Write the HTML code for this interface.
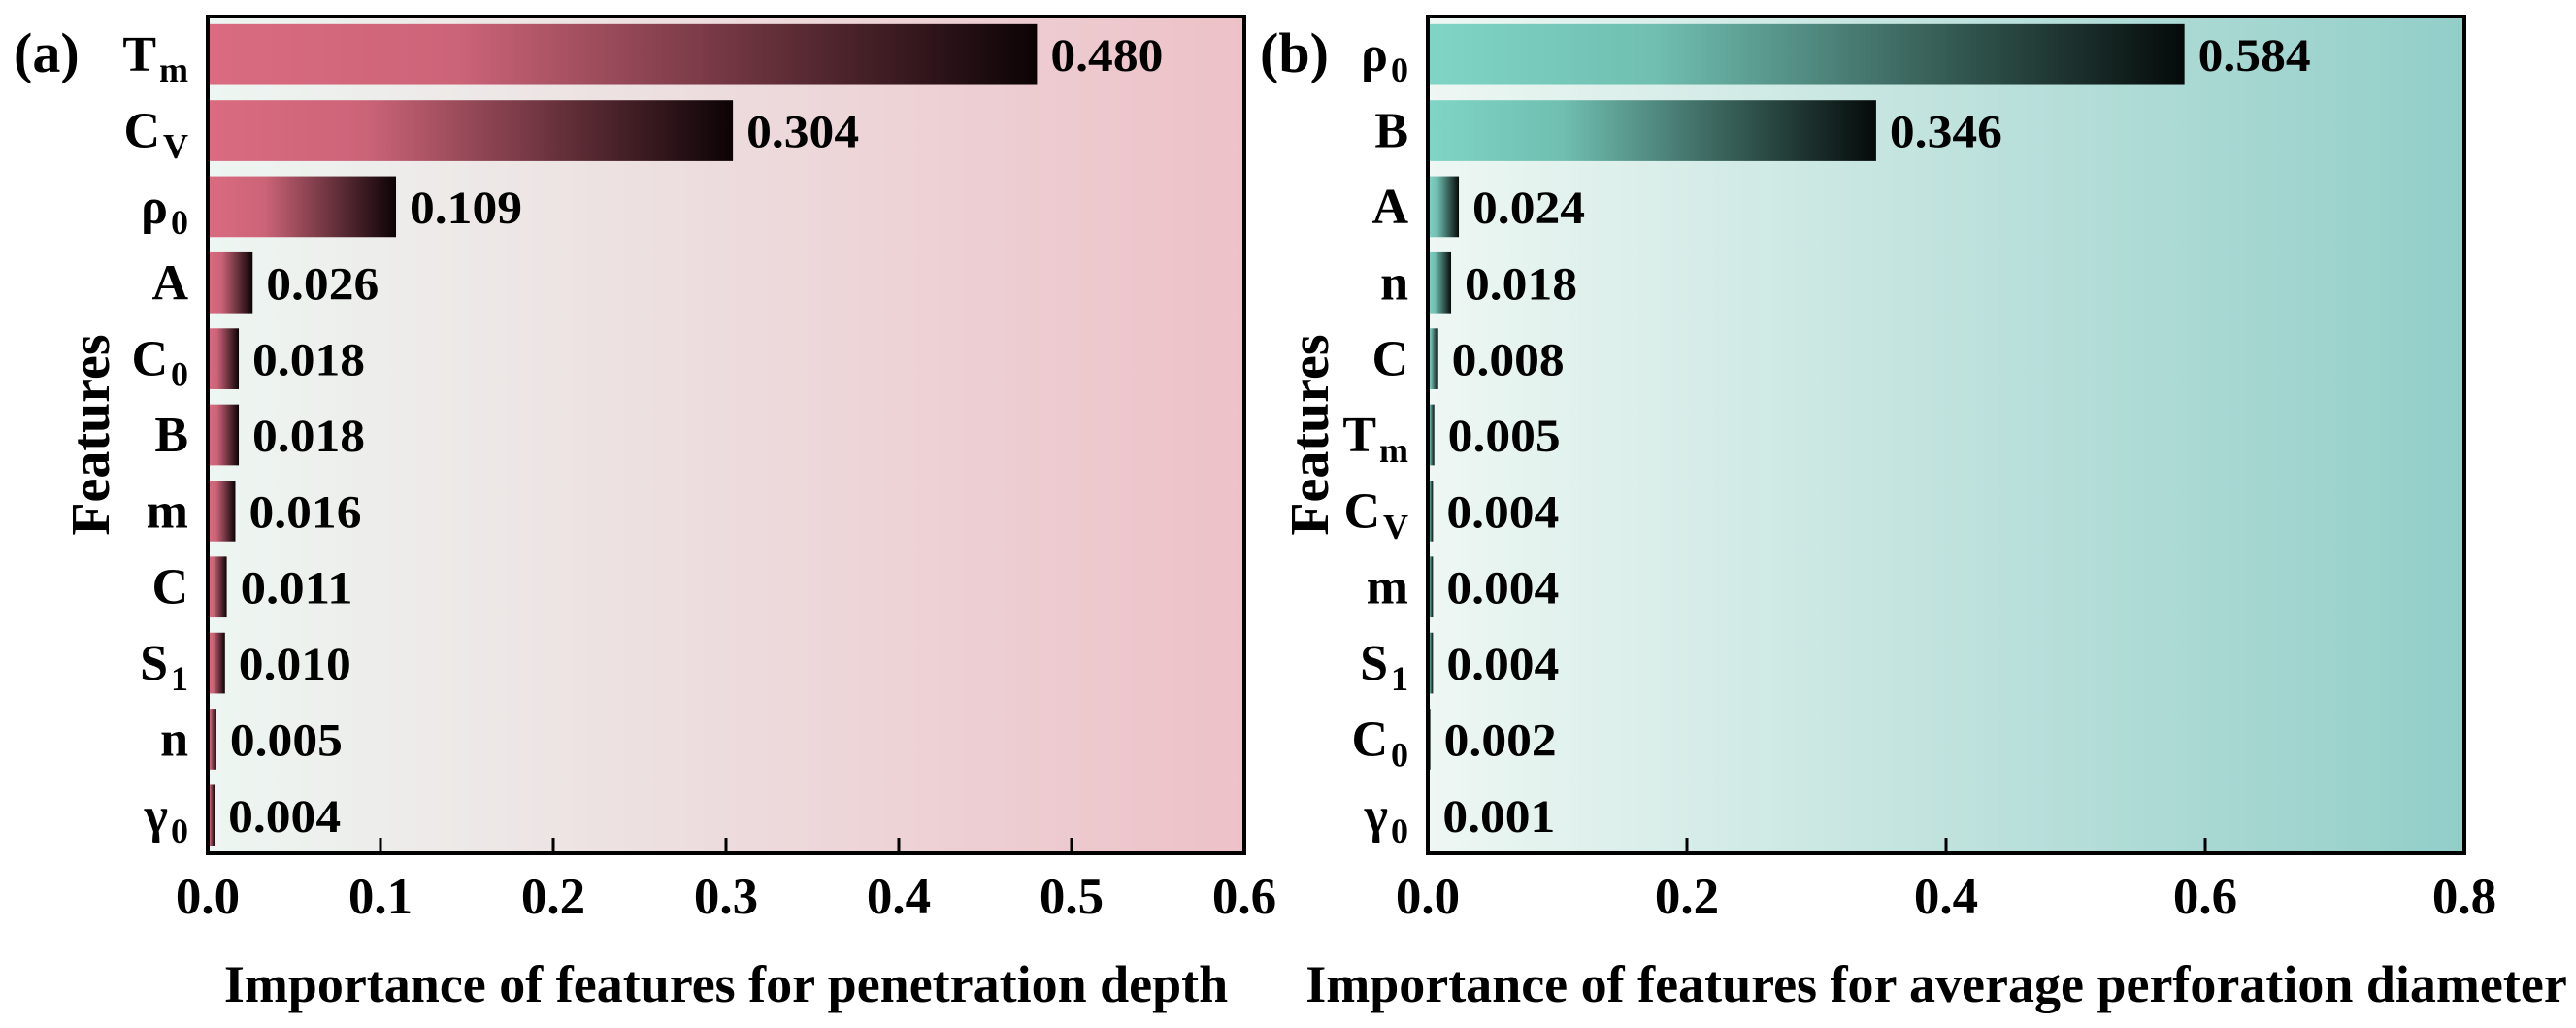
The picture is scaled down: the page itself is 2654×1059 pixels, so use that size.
<!DOCTYPE html>
<html><head><meta charset="utf-8">
<style>
html,body{margin:0;padding:0;background:#fff;}
svg{display:block;font-family:"Liberation Serif",serif;font-weight:bold;}
</style></head>
<body>
<svg id="chart" width="2654" height="1059" viewBox="0 0 2654 1059" xmlns="http://www.w3.org/2000/svg">
<defs>
<linearGradient id="bgA" x1="0" x2="1" y1="0" y2="0"><stop offset="0" stop-color="#edf6f2"/><stop offset="1" stop-color="#edc1c8"/></linearGradient>
<linearGradient id="bgB" x1="0" x2="1" y1="0" y2="0"><stop offset="0" stop-color="#eef7f3"/><stop offset="1" stop-color="#92cec8"/></linearGradient>
<linearGradient id="barA" x1="0" x2="1" y1="0" y2="0"><stop offset="0" stop-color="#da6b80"/><stop offset="0.3" stop-color="#cc6478"/><stop offset="1" stop-color="#0c0305"/></linearGradient>
<linearGradient id="barB" x1="0" x2="1" y1="0" y2="0"><stop offset="0" stop-color="#7fd5c6"/><stop offset="0.3" stop-color="#70bfb1"/><stop offset="1" stop-color="#050a09"/></linearGradient>
</defs>
<g id="pa"></g>
<g id="pb"></g>
</svg>
<script>
const featuresA = [["T","m"],["C","V"],["ρ","0"],["A",""],["C","0"],["B",""],["m",""],["C",""],["S","1"],["n",""],["γ","0"]];
const valuesA = [0.480,0.304,0.109,0.026,0.018,0.018,0.016,0.011,0.010,0.005,0.004];
const ticksA = [0.0,0.1,0.2,0.3,0.4,0.5,0.6];
const featuresB = [["ρ","0"],["B",""],["A",""],["n",""],["C",""],["T","m"],["C","V"],["m",""],["S","1"],["C","0"],["γ","0"]];
const valuesB = [0.584,0.346,0.024,0.018,0.008,0.005,0.004,0.004,0.004,0.002,0.001];
const ticksB = [0.0,0.2,0.4,0.6,0.8];

const NS="http://www.w3.org/2000/svg";
function mk(tag, attrs, parent){const e=document.createElementNS(NS,tag);for(const k in attrs)e.setAttribute(k,attrs[k]);parent.appendChild(e);return e;}

function panel(g, o){
  const L=o.left, R=o.left+1068, T=17, B=879;
  const x = v => L + (v/o.max)*(R-L);
  const n=o.features.length, pitch=(B-T)/n, bh=pitch*0.8;
  const y = i => T + pitch*i + pitch/2;
  const bg=mk('rect',{x:L,y:T,width:R-L,height:B-T,fill:o.bg},g);
  
  
  o.values.forEach((v,i)=>{
    const r=mk('rect',{x:L,y:y(i)-bh/2,width:Math.max(x(v)-L,1),height:bh,fill:o.bar},g);
    
    
    const t=mk('text',{x:x(v)+14,y:y(i)+17,'font-size':48,textLength:116,lengthAdjust:'spacingAndGlyphs'},g);
    t.textContent=v.toFixed(3);
    
    
    const f=o.features[i];
    const fl=mk('text',{x:L-20,y:y(i)+17,'font-size':52,'text-anchor':'end'},g);
    
    
    const s1=mk('tspan',{},fl); s1.textContent=f[0];
    if(f[1]){const s2=mk('tspan',{'font-size':36,dy:11,dx:3},fl); s2.textContent=f[1];}
  });
  const fr=mk('rect',{x:L,y:T,width:R-L,height:B-T,fill:'none',stroke:'#000','stroke-width':4},g);
  
  
  o.ticks.forEach(tv=>{
    if(tv>0 && tv<o.max){
      const tk=mk('line',{x1:x(tv),x2:x(tv),y1:B,y2:B-16,stroke:'#000','stroke-width':3},g);
      
      
    }
    const tl=mk('text',{x:x(tv),y:941,'font-size':53,'text-anchor':'middle'},g);
    tl.textContent=tv.toFixed(1);
    
    
  });
  const xt=mk('text',{x:(L+R)/2+o.titleDx,y:1032,'font-size':54,'text-anchor':'middle'},g);
  xt.textContent=o.title;
  
  
  const yt=mk('text',{x:0,y:0,'font-size':56,'text-anchor':'middle',transform:`translate(${o.ytx},448) rotate(-90)`},g);
  yt.textContent='Features';
  
  
  const pl=mk('text',{x:o.plx,y:74,'font-size':58},g);
  pl.textContent=o.plabel;
  
  
}
panel(document.getElementById('pa'),{id:'a',left:214,max:0.6,features:featuresA,values:valuesA,ticks:ticksA,bg:'url(#bgA)',bar:'url(#barA)',title:'Importance of features for penetration depth',titleDx:0,ytx:112,plx:14,plabel:'(a)'});
panel(document.getElementById('pb'),{id:'b',left:1471,max:0.8,features:featuresB,values:valuesB,ticks:ticksB,bg:'url(#bgB)',bar:'url(#barB)',title:'Importance of features for average perforation diameter',titleDx:-10,ytx:1368,plx:1298,plabel:'(b)'});
</script>
</body></html>
